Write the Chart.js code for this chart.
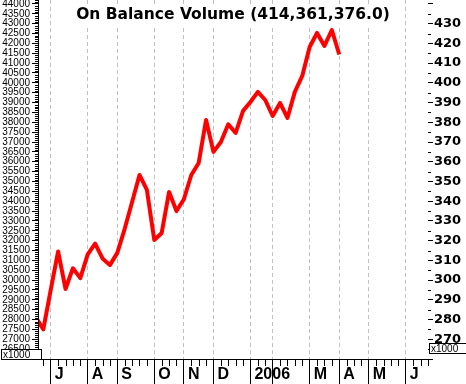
<!DOCTYPE html>
<html>
<head>
<meta charset="utf-8">
<script src="https://cdn.jsdelivr.net/npm/chart.js@4.4.0/dist/chart.umd.min.js"></script>
<style>
  html, body { margin: 0; padding: 0; background: #fff; }
  canvas { display: block; }
</style>
</head>
<body>
<canvas id="chart" width="466" height="384"></canvas>
<script>
// weekly bars, week 0 = first week of July 2005
const weeks = [-2, -1, 0, 1, 2, 3, 4, 5, 6, 7, 8, 9, 10, 11, 12, 13, 14, 15, 16, 17, 18, 19,
  20, 21, 22, 23, 24, 25, 26, 27, 28, 29, 30, 31, 32, 33, 34, 35, 36, 37, 38, 39];
const obv = [28100, 27500, 29500, 31450, 29550, 30600, 30100, 31300, 31850, 31100, 30760, 31380,
  32600, 33960, 35330, 34570, 32035, 32390, 34470, 33500, 34100, 35330,
  35940, 38120, 36500, 37000, 37900, 37460, 38580, 39030, 39540, 39130,
  38320, 38980, 38220, 39540, 40350, 41820, 42530, 41870, 42680, 41436];
const monthWeeks = [0, 5, 9, 14, 18, 22, 27, 30, 35, 39, 43, 48];
const monthLabels = ['J', 'A', 'S', 'O', 'N', 'D', '2006', '', 'M', 'A', 'M', 'J'];
const leftTicks = [26000, 26500, 27000, 27500, 28000, 28500, 29000, 29500, 30000, 30500,
  31000, 31500, 32000, 32500, 33000, 33500, 34000, 34500, 35000, 35500, 36000, 36500,
  37000, 37500, 38000, 38500, 39000, 39500, 40000, 40500, 41000, 41500, 42000, 42500,
  43000, 43500, 44000];
const rightTicks = [26000, 27000, 28000, 29000, 30000, 31000, 32000, 33000, 34000, 35000,
  36000, 37000, 38000, 39000, 40000, 41000, 42000, 43000, 44000];
const titleText = 'On Balance Volume (414,361,376.0)';

const fontFam = '"Liberation Sans", Arial, sans-serif';
const wideFam = '"DejaVu Sans", Verdana, sans-serif';

const extras = {
  id: 'extras',
  afterDraw(chart) {
    const ctx = chart.ctx;
    const { x, y } = chart.scales;
    const area = chart.chartArea;
    ctx.save();
    ctx.strokeStyle = '#000';
    ctx.lineWidth = 1;
    ctx.setLineDash([]);
    ctx.beginPath();
    // minor ticks on left axis
    for (let v = 26000; v <= 44200; v += 100) {
      if (v % 500 === 0) continue;
      const py = Math.round(y.getPixelForValue(v)) + 0.5;
      ctx.moveTo(area.left - 3, py);
      ctx.lineTo(area.left, py);
    }
    // minor ticks on right axis
    for (let v = 26500; v <= 44200; v += 1000) {
      const py = Math.round(y.getPixelForValue(v)) + 0.5;
      ctx.moveTo(area.right, py);
      ctx.lineTo(area.right + 3, py);
    }
    // weekly ticks under the date axis
    for (let w = Math.ceil(x.min); w <= x.max; w++) {
      if (monthWeeks.includes(w)) continue;
      const px = Math.round(x.getPixelForValue(w)) + 0.5;
      ctx.moveTo(px, area.bottom);
      ctx.lineTo(px, area.bottom + 7);
    }
    // axis lines
    ctx.moveTo(area.left + 0.5, 0);
    ctx.lineTo(area.left + 0.5, area.bottom + 0.5);
    ctx.lineTo(area.right, area.bottom + 0.5);
    ctx.stroke();

    // title with white backing
    ctx.font = 'bold 15.5px ' + wideFam;
    const tw = ctx.measureText(titleText).width;
    const cx = chart.width / 2;
    ctx.fillStyle = '#fff';
    ctx.fillRect(cx - tw / 2 - 2, 4, tw + 4, 21);
    ctx.fillStyle = '#000';
    ctx.textAlign = 'center';
    ctx.textBaseline = 'alphabetic';
    ctx.fillText(titleText, cx, 19);

    // x1000 boxes
    ctx.font = '10px ' + fontFam;
    ctx.textAlign = 'left';
    ctx.textBaseline = 'middle';
    [[1, 349], [area.right + 1, 343]].forEach(([bx, by]) => {
      ctx.fillStyle = '#fff';
      ctx.fillRect(bx, by, 40, 10);
      ctx.strokeRect(bx + 0.5, by + 0.5, 40, 10);
      ctx.fillStyle = '#000';
      ctx.fillText('x1000', bx + 2, by + 6);
    });
    ctx.restore();
  }
};

new Chart(document.getElementById('chart'), {
  type: 'line',
  data: {
    datasets: [{
      data: weeks.map((w, i) => ({ x: w, y: obv[i] })),
      borderColor: '#ff0000',
      borderWidth: 4,
      borderJoinStyle: 'round',
      pointRadius: 0,
      tension: 0,
      clip: 0,
      yAxisID: 'y'
    }]
  },
  options: {
    responsive: false,
    animation: false,
    layout: { padding: 0 },
    plugins: { legend: { display: false }, tooltip: { enabled: false }, title: { display: false } },
    scales: {
      x: {
        type: 'linear',
        min: -1.72,
        max: 51.0,
        afterBuildTicks: s => { s.ticks = monthWeeks.map(v => ({ value: v })); },
        ticks: {
          callback: (v, i) => monthLabels[i],
          autoSkip: false,
          maxRotation: 0,
          align: 'start',
          labelOffset: 4,
          padding: -19,
          color: '#000',
          font: { size: 16, weight: 'bold', family: fontFam }
        },
        grid: {
          color: '#c0c0c0',
          tickLength: 25,
          tickColor: '#000',
          tickBorderDash: [],
          tickWidth: 1
        },
        border: { display: false, dash: [4, 3] },
        afterFit: s => { s.height = 25; s.paddingLeft = 0; s.paddingRight = 0; }
      },
      y: {
        position: 'left',
        min: 26000,
        max: 44200,
        afterBuildTicks: s => { s.ticks = leftTicks.map(v => ({ value: v })); },
        ticks: {
          autoSkip: false,
          padding: 2,
          color: '#000',
          font: { size: 10, family: fontFam },
          callback: v => (v < 26500 ? '' : v)
        },
        grid: { drawOnChartArea: false, tickLength: 6, color: '#000' },
        border: { display: false },
        afterFit: s => { s.width = 38; s.paddingTop = 0; s.paddingBottom = 0; }
      },
      y2: {
        position: 'right',
        min: 26000,
        max: 44200,
        afterBuildTicks: s => { s.ticks = rightTicks.map(v => ({ value: v })); },
        ticks: {
          autoSkip: false,
          padding: 1,
          color: '#000',
          font: { size: 13, weight: 'bold', family: wideFam },
          callback: v => (v >= 27000 && v <= 43000 ? v / 100 : '')
        },
        grid: { drawOnChartArea: false, tickLength: 5, color: '#000' },
        border: { display: false },
        afterFit: s => { s.width = 38; s.paddingTop = 0; s.paddingBottom = 0; }
      }
    }
  },
  plugins: [extras]
});
</script>
</body>
</html>
